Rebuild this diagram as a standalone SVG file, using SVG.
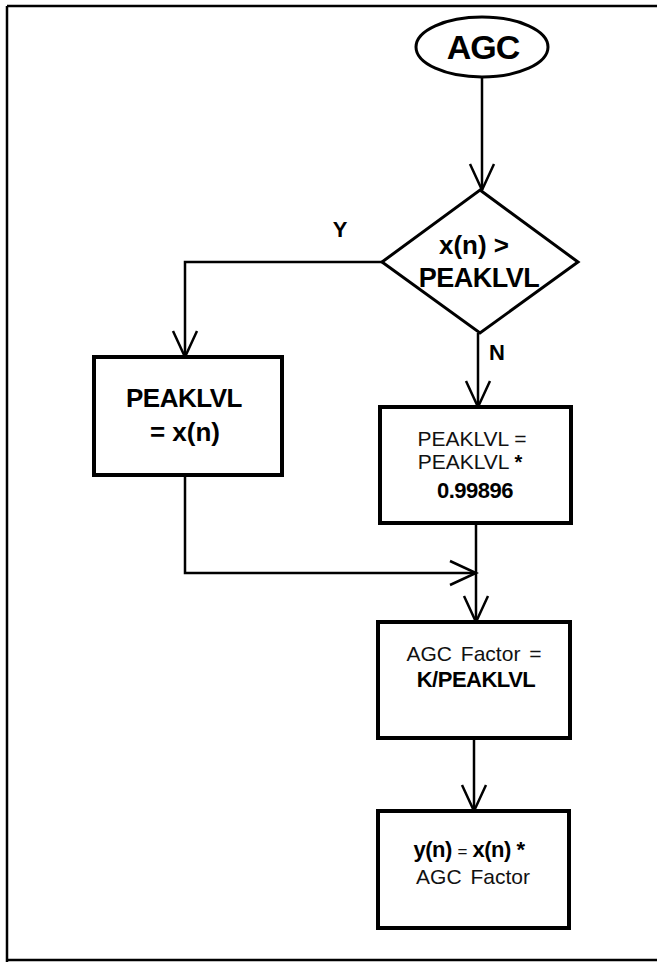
<svg xmlns="http://www.w3.org/2000/svg" width="657" height="963" viewBox="0 0 657 963">
<style>
.frame{stroke:#000;stroke-width:2.5;fill:none}
.box{fill:#fff;stroke:#000;stroke-width:4}
.shape{fill:#fff;stroke:#000;stroke-width:3}
.conn{fill:none;stroke:#000;stroke-width:2.5}
.head{fill:none;stroke:#000;stroke-width:2.5}
.b{font-family:"Liberation Sans",Arial,sans-serif;font-weight:bold;fill:#000;text-anchor:middle}
.r{font-family:"Liberation Sans",Arial,sans-serif;fill:#111;text-anchor:middle}
</style>
<rect width="657" height="963" fill="#fff"/>
<g id="frame">
<path class="frame" d="M7,6 H657 M7,6 V962 M7,960 H657"/>
</g>
<g id="connectors">
<path class="conn" d="M482,77 V190"/>
<path class="head" d="M470,164 L482,190 L494,164"/>
<path class="conn" d="M383,262 H185 V357"/>
<path class="head" d="M173,331 L185,357 L197,331"/>
<path class="conn" d="M478,333 V407"/>
<path class="head" d="M466,381 L478,407 L490,381"/>
<path class="conn" d="M185,475 V573 H476"/>
<path class="head" d="M450,561 L476,573 L450,585"/>
<path class="conn" d="M476,523 V622"/>
<path class="head" d="M464,596 L476,622 L488,596"/>
<path class="conn" d="M474,738 V811"/>
<path class="head" d="M462,785 L474,811 L486,785"/>
</g>
<g id="start">
<ellipse class="shape" cx="482" cy="47" rx="66" ry="30" stroke-width="2.5"/>
<text class="b" x="483" y="59" font-size="34" letter-spacing="-1">AGC</text>
</g>
<g id="decision">
<polygon class="shape" points="480,190 578,262 480,333 382,262"/>
<text class="b" x="474" y="254" font-size="26">x(n) &gt;</text>
<text class="b" x="479" y="287" font-size="27" letter-spacing="-0.5">PEAKLVL</text>
</g>
<text class="b" x="340" y="237" font-size="22">Y</text>
<text class="b" x="497" y="360" font-size="22">N</text>
<g id="set-peak">
<rect class="box" x="94" y="357" width="188" height="118"/>
<text class="b" x="184" y="407" font-size="26" letter-spacing="-0.5">PEAKLVL</text>
<text class="b" x="185" y="441" font-size="26">= x(n)</text>
</g>
<g id="decay-peak">
<rect class="box" x="380" y="407" width="191" height="116"/>
<text class="r" x="472" y="446" font-size="21">PEAKLVL  =</text>
<text class="r" x="470" y="469" font-size="21">PEAKLVL  <tspan class="b" font-size="20">*</tspan></text>
<text class="b" x="475" y="498" font-size="22" letter-spacing="-0.5">0.99896</text>
</g>
<g id="agc-factor">
<rect class="box" x="378" y="622" width="192" height="116"/>
<text class="r" x="474" y="661" font-size="21" word-spacing="3">AGC Factor =</text>
<text class="b" x="476" y="687" font-size="22" letter-spacing="-0.5">K/PEAKLVL</text>
</g>
<g id="output">
<rect class="box" x="378" y="811" width="191" height="117"/>
<text class="b" x="469" y="857" font-size="22" letter-spacing="-0.5">y(n) <tspan class="r" font-weight="normal" font-size="17">=</tspan> x(n) *</text>
<text class="r" x="473" y="884" font-size="21" word-spacing="3">AGC Factor</text>
</g>
</svg>
